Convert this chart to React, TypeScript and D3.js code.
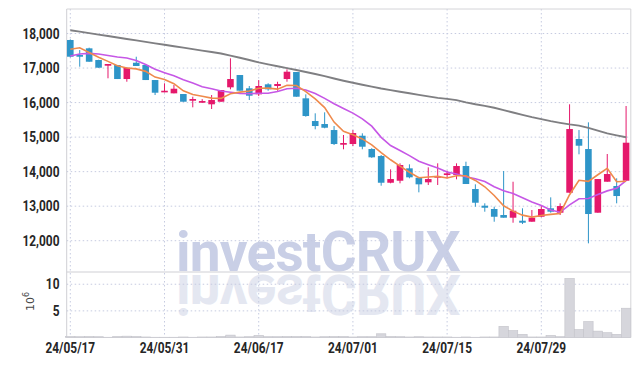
import React from "react";
import * as d3 from "d3";

const dates = [
  "24/05/17","24/05/20","24/05/21","24/05/22","24/05/23","24/05/24","24/05/27","24/05/28","24/05/29","24/05/30",
  "24/05/31","24/06/03","24/06/04","24/06/05","24/06/07","24/06/10","24/06/11","24/06/12","24/06/13","24/06/14",
  "24/06/17","24/06/18","24/06/19","24/06/20","24/06/21","24/06/24","24/06/25","24/06/26","24/06/27","24/06/28",
  "24/07/01","24/07/02","24/07/03","24/07/04","24/07/05","24/07/08","24/07/09","24/07/10","24/07/11","24/07/12",
  "24/07/15","24/07/16","24/07/17","24/07/18","24/07/19","24/07/22","24/07/23","24/07/24","24/07/25","24/07/26",
  "24/07/29","24/07/30","24/07/31","24/08/01","24/08/02","24/08/05","24/08/06","24/08/07","24/08/08","24/08/09",
];

const opens = [
  17812,17377,17571,17233,17068,17088,16682,17154,17088,16653,
  16297,16268,16248,16054,15996,15950,16025,16442,16798,16413,
  16239,16529,16480,16682,16885,16123,15466,15379,15205,14780,
  14800,15040,14655,14452,13679,13737,14096,13824,13691,13824,
  13902,13902,14163,13497,13013,12918,12744,12666,12579,12550,
  12694,12938,12811,13390,14945,14655,12811,13708,13584,13737,
];
const highs = [
  17830,17522,17590,17240,17117,17088,17010,17328,17088,16653,
  16558,16509,16248,16170,16100,16219,16364,17282,16798,16480,
  16653,16560,16604,16963,16885,16239,15689,15718,15321,15061,
  15205,15110,14680,14481,14067,14241,14212,13850,14125,14241,
  14027,14241,14288,13633,13083,12984,14018,13708,12938,12889,
  13033,13256,13083,15950,15205,15428,13786,14511,13807,15901,
];
const lows = [
  17310,17039,17183,17010,16703,16682,16604,17059,16653,16219,
  16297,16268,16025,15863,15990,15814,16025,16384,16344,16074,
  16190,16343,16343,16604,16170,15591,15226,15255,14771,14647,
  14742,14647,14400,13592,13662,13662,13807,13401,13613,13613,
  13807,13778,13642,12984,12840,12550,12666,12521,12483,12550,
  12680,12811,12744,13390,14502,11924,12811,13708,13083,13737,
];
const closes = [
  17328,17328,17183,17010,17117,16682,17010,17059,16653,16286,
  16343,16401,16025,16103,16045,16074,16364,16682,16344,16199,
  16480,16384,16538,16894,16170,15611,15321,15272,14800,14829,
  15119,14722,14415,13679,13786,14192,13836,13633,13786,13873,
  13951,14163,13642,13100,12955,12694,12666,12868,12521,12666,
  12918,12840,13004,15234,14751,12773,13786,13931,13294,14838,
];
// volume in millions of shares
const volumes = [
  0.2,0.15,0.2,0.15,0.05,0.2,0.25,0.2,0.1,0.05,
  0.05,0.05,0.1,0.05,0.1,0.1,0.2,0.45,0.1,0.15,
  0.4,0.15,0.15,0.2,0.2,0.2,0.1,0.15,0.2,0.2,
  0.1,0.15,0.15,0.7,0.2,0.15,0.1,0.15,0.1,0.1,
  0.1,0.05,0.1,0.05,0.1,0.1,2.1,1.3,0.6,0.1,
  0.1,0.4,0.15,11.1,1.5,3.0,1.2,0.9,0.6,5.5,
];
const ma5 = [
  17542,17586,17450,17311,17193,17064,17000,16976,16904,16738,
  16670,16548,16342,16232,16183,16130,16122,16254,16302,16333,
  16414,16418,16389,16499,16493,16319,16107,15854,15435,15167,
  15068,14948,14777,14553,14344,14159,13982,13825,13847,13864,
  13816,13881,13883,13746,13562,13311,13011,12857,12741,12683,
  12728,12763,12790,13332,13749,13720,13910,14095,13707,13724,
];
const ma10 = [
  17348,17406,17424,17409,17363,17319,17290,17218,17102,16966,
  16867,16774,16659,16568,16461,16400,16335,16298,16267,16258,
  16272,16270,16322,16401,16413,16367,16263,16122,15967,15830,
  15694,15528,15316,14994,14756,14614,14465,14301,14200,14104,
  13988,13932,13854,13797,13713,13564,13446,13370,13244,13123,
  13020,12887,12824,13037,13216,13224,13337,13443,13520,13737,
];
const maLong = [
  18096,18054,18012,17969,17927,17885,17843,17801,17759,17716,
  17674,17632,17590,17548,17506,17464,17421,17360,17299,17233,
  17163,17108,17053,16998,16943,16887,16828,16765,16697,16632,
  16573,16516,16462,16407,16361,16315,16270,16225,16179,16135,
  16108,16072,16008,15953,15906,15850,15782,15714,15646,15579,
  15521,15462,15414,15370,15333,15266,15187,15107,15052,14997,
];

const priceTicks = [12000, 13000, 14000, 15000, 16000, 17000, 18000];
const volumeTicks = [5, 10];
const dateTicks = ["24/05/17", "24/05/31", "24/06/17", "24/07/01", "24/07/15", "24/07/29"];

const W = 639, H = 366;
const L = 66.7, R = 630.8, T = 9, MID = 272, B = 337.5;

const UP = "#e5186b";
const DOWN = "#2e95c8";
const FONT = "Roboto, sans-serif";
const SQ = 0.82;

function Label({ x, y, anchor, children }: { x: number; y: number; anchor: string; children: React.ReactNode }) {
  return (
    <g transform={`translate(${x},${y}) scale(${SQ},1)`}>
      <text x={0} y={0} textAnchor={anchor} fontFamily={FONT} fontWeight={700} fontSize={14.5} fill="#262626">
        {children}
      </text>
    </g>
  );
}

export default function App() {
  const x = d3.scaleBand<string>().domain(dates).range([65.6, R]).padding(0);
  const bw = x.bandwidth();
  const cx = (i: number) => (x(dates[i]) as number) + bw / 2;
  const y = d3.scaleLinear().domain([11094, 18710]).range([MID, T]);
  const yv = d3.scaleLinear().domain([0, 12.3]).range([B, MID]);

  const lineOf = (arr: number[]) =>
    d3.line<number>().x((_, i) => cx(i)).y((d) => y(d))(arr) as string;

  const fmt = d3.format(",");
  const bodyW = bw * 0.7;

  return (
    <svg width={W} height={H} style={{ position: "absolute", left: 0, top: 0, background: "#fff" }}>
      <defs>
        <clipPath id="reflClip">
          <rect x={L} y={MID} width={R - L} height={B - MID} />
        </clipPath>
        <clipPath id="plotClip">
          <rect x={L} y={T} width={R - L} height={MID - T} />
        </clipPath>
      </defs>
      {/* watermark */}
      <text x={176} y={MID - 1} fontFamily="Roboto, sans-serif" fontWeight={700} fontSize={55}
        fill="#c9cfe6" letterSpacing={-0.8}>investCRUX</text>
      <g clipPath="url(#reflClip)">
        <text x={176} y={MID - 1} fontFamily="Roboto, sans-serif" fontWeight={700} fontSize={55}
          fill="#e4e7f1" letterSpacing={-0.8} transform={`translate(0,${2 * MID + 2}) scale(1,-1)`}>investCRUX</text>
      </g>

      {/* grid */}
      {priceTicks.map((t) => (
        <line key={"gp" + t} x1={L} x2={R} y1={y(t)} y2={y(t)} stroke="#c6cbe0" strokeWidth={1} strokeDasharray="1.5,2.5" />
      ))}
      {volumeTicks.map((t) => (
        <line key={"gv" + t} x1={L} x2={R} y1={yv(t)} y2={yv(t)} stroke="#c6cbe0" strokeWidth={1} strokeDasharray="1.5,2.5" />
      ))}
      {dateTicks.map((d) => {
        const xi = cx(dates.indexOf(d));
        return <line key={"gx" + d} x1={xi} x2={xi} y1={T} y2={B} stroke="#c6cbe0" strokeWidth={1} strokeDasharray="1.5,2.5" />;
      })}

      {/* frame */}
      <line x1={L} x2={R} y1={T} y2={T} stroke="#d4d4d8" />
      <line x1={L} x2={R} y1={MID} y2={MID} stroke="#cfcfd4" />
      <line x1={L} x2={L} y1={T} y2={B} stroke="#cfcfd4" />
      <line x1={R} x2={R} y1={T} y2={B} stroke="#d4d4d8" />
      <line x1={L} x2={R} y1={B} y2={B} stroke="#e2e2e6" />

      {/* volume */}
      {volumes.map((v, i) => (
        <rect key={"v" + i} x={x(dates[i]) as number} width={bw} y={yv(v)} height={B - yv(v)}
          fill="#d6d6dc" stroke="#c3c3ca" strokeWidth={0.6} />
      ))}

      {/* candles */}
      <g clipPath="url(#plotClip)">
        {dates.map((d, i) => {
          const o = opens[i], c = closes[i];
          const up = c >= o;
          const col = up ? UP : DOWN;
          const top = y(Math.max(o, c));
          const bot = y(Math.min(o, c));
          const h = Math.max(bot - top, 1.6);
          return (
            <g key={"c" + i}>
              <line x1={cx(i)} x2={cx(i)} y1={y(highs[i])} y2={y(lows[i])} stroke={col} strokeWidth={1} />
              <rect x={cx(i) - bodyW / 2} y={top} width={bodyW} height={h} fill={col} />
            </g>
          );
        })}
        <path d={lineOf(maLong)} fill="none" stroke="#7f7f82" strokeWidth={1.9} />
        <path d={lineOf(ma10)} fill="none" stroke="#c657e6" strokeWidth={1.6} />
        <path d={lineOf(ma5)} fill="none" stroke="#ef8a4c" strokeWidth={1.6} />
      </g>

      {/* y labels */}
      {priceTicks.map((t) => (
        <Label key={"ty" + t} x={59.5} y={y(t) + 5} anchor="end">{fmt(t)}</Label>
      ))}
      {volumeTicks.map((t) => (
        <Label key={"tv" + t} x={59.5} y={yv(t) + 5} anchor="end">{t}</Label>
      ))}
      <text transform={`translate(34,${(yv(10) + yv(5)) / 2 + 4}) rotate(-90)`} textAnchor="middle"
        fontFamily="'DejaVu Sans', sans-serif" fontSize={11} fill="#444">
        10<tspan dy={-5} fontSize={8}>6</tspan>
      </text>

      {/* x labels */}
      {dateTicks.map((d) => (
        <Label key={"tx" + d} x={cx(dates.indexOf(d))} y={353} anchor="middle">{d}</Label>
      ))}
    </svg>
  );
}
